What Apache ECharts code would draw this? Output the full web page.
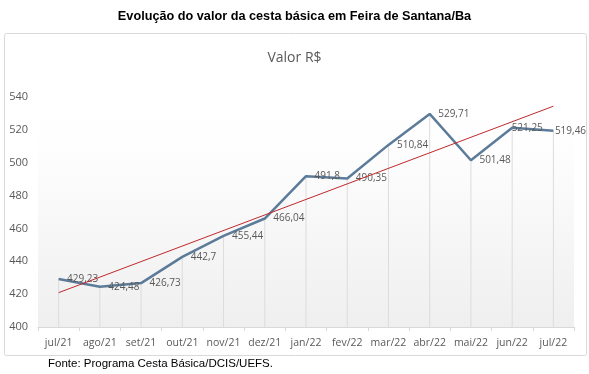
<!DOCTYPE html>
<html>
<head>
<meta charset="utf-8">
<script src="https://cdn.jsdelivr.net/npm/echarts@6/dist/echarts.min.js"></script>
<style>
html,body{margin:0;padding:0;background:#fff;}
#c{width:589px;height:374px;}
</style>
</head>
<body>
<div id="c"></div>
<script>
var categories = ['jul/21','ago/21','set/21','out/21','nov/21','dez/21','jan/22','fev/22','mar/22','abr/22','mai/22','jun/22','jul/22'];
var values = [429.23, 424.48, 426.73, 442.7, 455.44, 466.04, 491.8, 490.35, 510.84, 529.71, 501.48, 521.25, 519.46];
var trendValues = [420.9, null, null, null, null, null, null, null, null, null, null, null, 534.4];
var yTicks = [400, 420, 440, 460, 480, 500, 520, 540];

var chart = echarts.init(document.getElementById('c'), null, {renderer:'canvas'});
var font = '"Open Sans", sans-serif';
var lineData = values.map(function(v, i){
  var item = {value: v};
  if (i === values.length - 2) item.label = {distance: -1, offset: [0, -1]};
  if (i === values.length - 1) item.label = {distance: 1};
  return item;
});
chart.setOption({
  animation: false,
  graphic: [
    {type:'rect', shape:{x:4.5,y:33.5,width:582,height:322,r:2}, style:{fill:'#fff',stroke:'#d9d9d9',lineWidth:1}, z:-10},
    {type:'text', left:'center', top:10, style:{text:'Evolução do valor da cesta básica em Feira de Santana/Ba', font:'bold 12.7px "Liberation Sans", Arial, sans-serif', fill:'#000'}},
    {type:'text', left:48, top:358, style:{text:'Fonte: Programa Cesta Básica/DCIS/UEFS.', font:'11.5px "Liberation Sans", Arial, sans-serif', fill:'#000'}}
  ],
  title: {
    text: 'Valor R$', left: 'center', top: 46,
    textStyle: {fontFamily: font, fontSize: 14, fontWeight: 'normal', color: '#595959'}
  },
  grid: {
    left: 38, right: 15, top: 97, bottom: 47, show: true, borderWidth: 0,
    backgroundColor: {type:'linear', x:0, y:0, x2:0, y2:1, colorStops:[{offset:0,color:'#ffffff'},{offset:0.2,color:'#fefefe'},{offset:1,color:'#efefef'}]}
  },
  xAxis: {
    type: 'category', data: categories, boundaryGap: true,
    axisLine: {show:true, lineStyle:{color:'#d9d9d9', width:1}},
    axisTick: {show:true, length:4, lineStyle:{color:'#d9d9d9'}},
    axisLabel: {color:'#595959', fontFamily: font, fontSize: 10.5, margin: 11, interval: 0},
    splitLine: {show:false}
  },
  yAxis: {
    type: 'value', min: yTicks[0], max: yTicks[yTicks.length-1], interval: 20,
    axisLine: {show:false}, axisTick: {show:false},
    axisLabel: {color:'#595959', fontFamily: font, fontSize: 11, margin: 10},
    splitLine: {show:false}
  },
  series: [
    {
      type: 'bar', data: values, barWidth: 1, silent: true,
      itemStyle: {color: '#dcdcdc'}, z: 1
    },
    {
      type: 'line', data: lineData, symbol: 'circle', symbolSize: 1, showSymbol: true, z: 3,
      itemStyle: {color: 'rgba(0,0,0,0)', borderWidth: 0},
      lineStyle: {color: '#5b7b99', width: 2.5},
      labelLayout: {hideOverlap: false},
      label: {
        show: true, position: 'right', distance: 8,
        color: '#595959', fontFamily: font, fontSize: 10,
        formatter: function(p){ return String(p.value).replace('.', ','); }
      }
    },
    {
      type: 'line', data: trendValues, connectNulls: true, symbol: 'none', z: 4,
      lineStyle: {color: '#c0282d', width: 1}
    }
  ]
});
</script>
</body>
</html>
